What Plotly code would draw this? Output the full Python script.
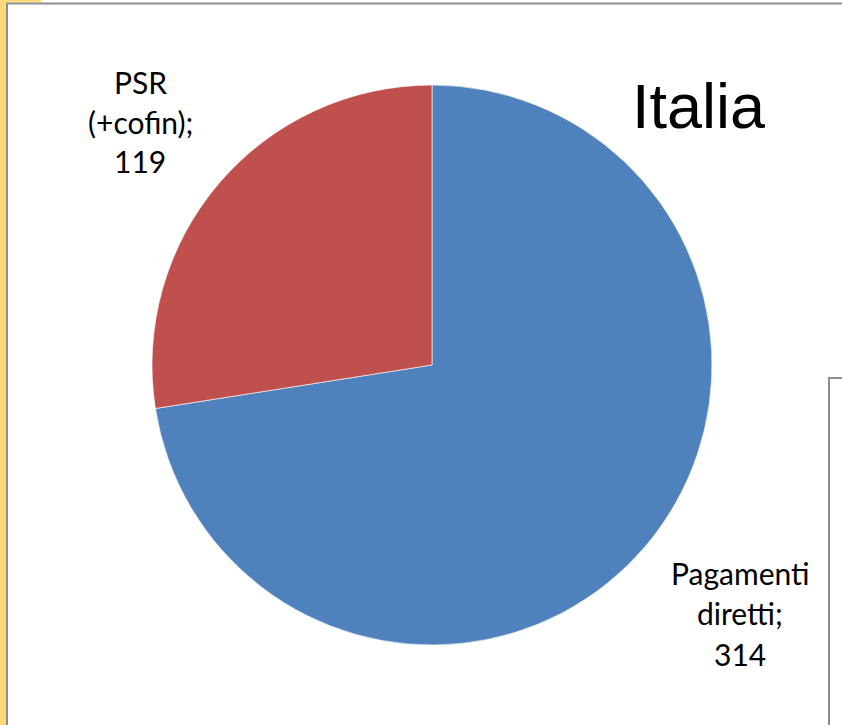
import plotly.graph_objects as go

W, H = 842, 725

labels = ["Pagamenti diretti", "PSR (+cofin)"]
label_lines = [["Pagamenti", "diretti;"], ["PSR", "(+cofin);"]]
values = [314, 119]
colors = ["#4F81BD", "#C0504D"]
title = "Italia"

def px(x):
    return x / W

def py(y):
    return 1 - y / H

fig = go.Figure()
fig.add_trace(go.Pie(
    labels=labels, values=values, sort=False, direction="clockwise", rotation=0,
    marker=dict(colors=colors, line=dict(color="rgba(255,255,255,0.6)", width=1)),
    textinfo="none", hoverinfo="label+value", showlegend=False,
    domain=dict(x=[px(152), px(712)], y=[py(645), py(85)]),
))

annotations = []
label_pos = [(740, [573, 613, 654]), (140, [82, 122, 161])]
for lines, v, (cx, ys) in zip(label_lines, values, label_pos):
    texts = lines + [str(v)]
    for t, yy in zip(texts, ys):
        annotations.append(dict(
            x=px(cx), y=py(yy), xref="paper", yref="paper", text=t, showarrow=False,
            xanchor="center", yanchor="middle",
            font=dict(family="Lato, 'Open Sans', sans-serif", size=30, color="#000000"),
        ))
annotations.append(dict(
    x=px(699), y=py(106), xref="paper", yref="paper", text=title, showarrow=False,
    xanchor="center", yanchor="middle",
    font=dict(family="'Liberation Sans', Arial, sans-serif", size=63, color="#000000"),
))

shapes = [
    dict(type="rect", xref="paper", yref="paper", x0=px(0), x1=px(6), y0=py(H), y1=py(0),
         fillcolor="#FFD97A", line=dict(width=0), layer="below"),
    dict(type="rect", xref="paper", yref="paper", x0=px(0), x1=px(41), y0=py(2.5), y1=py(0),
         fillcolor="#FFD97A", line=dict(width=0), layer="below"),
    dict(type="line", xref="paper", yref="paper", x0=px(6), x1=px(W), y0=py(3.5), y1=py(3.5),
         line=dict(color="#8E8E8E", width=2)),
    dict(type="line", xref="paper", yref="paper", x0=px(7), x1=px(7), y0=py(3), y1=py(H),
         line=dict(color="#8E8E8E", width=2)),
    dict(type="path", xref="paper", yref="paper",
         path=f"M {px(829)},{py(H)} L {px(829)},{py(378)} L {px(W)},{py(378)}",
         line=dict(color="#8E8E8E", width=2)),
]

fig.update_layout(
    width=W, height=H, margin=dict(l=0, r=0, t=0, b=0),
    paper_bgcolor="#FFFFFF", plot_bgcolor="#FFFFFF",
    annotations=annotations, shapes=shapes,
)

fig.write_html(
    "out.html",
    config={"displayModeBar": False},
    post_script="document.body.style.margin='0';document.body.style.padding='0';",
)
